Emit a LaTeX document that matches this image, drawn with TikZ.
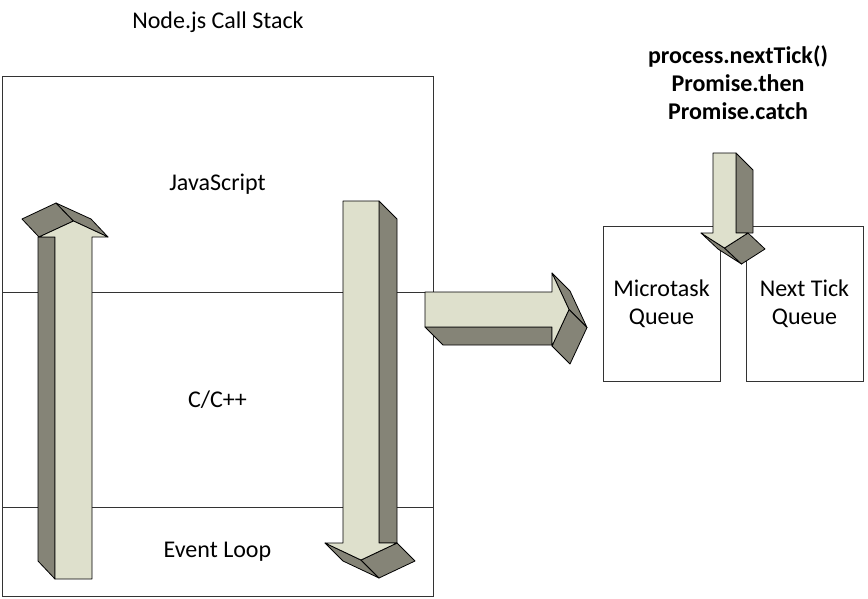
\documentclass[tikz,border=0pt]{standalone}
\usepackage{fontspec}
\setmainfont{Carlito}
\usetikzlibrary{positioning}
\definecolor{facelight}{RGB}{222,224,204}
\definecolor{facedark}{RGB}{133,132,119}

\begin{document}
\begin{tikzpicture}[x=1pt,y=-1pt,line width=0.8pt,
    font=\fontsize{24}{28}\selectfont,
    layer/.style={draw=black!80,minimum width=431pt,outer sep=0pt},
    queuebox/.style={draw=black!80,minimum width=117pt,minimum height=155pt,align=center,outer sep=0pt},
    front/.style={fill=facelight,draw=black,line join=round},
    side/.style={fill=facedark,draw=black,line join=round}]
    \useasboundingbox (0,0) rectangle (868,598);

    \node (title) at (218,22) {Node.js Call Stack};
    \node[layer,minimum height=216pt] (js) at (217.5,184) {JavaScript};
    \node[layer,minimum height=215pt,below=0pt of js] (cpp) {C/C++};
    \node[layer,minimum height=89pt,below=0pt of cpp] (loop) {Event Loop};

    \node[queuebox] (microtask) at (661.5,303.5) {Microtask\\Queue};
    \node[queuebox,right=26pt of microtask] (nexttick) {Next Tick\\Queue};
    \node[font=\fontsize{24}{28}\selectfont\bfseries,align=center] (sources) at (738,83) {process.nextTick()\\Promise.then\\Promise.catch};

    % up arrow
    \filldraw[side] (55,579) -- (38,561) -- (38,237) -- (55,237) -- cycle;
    \filldraw[side] (39,237) -- (22,219) -- (56,203) -- (73.5,221) -- cycle;
    \filldraw[side] (73.5,221) -- (56,203) -- (91,219) -- (108,237) -- cycle;
    \filldraw[front] (55,579) -- (55,237) -- (39,237) -- (73.5,221) -- (108,237) -- (92,237) -- (92,579) -- cycle;

    % down arrow
    \filldraw[side] (379,201) -- (397,219) -- (397,543) -- (379,543) -- cycle;
    \filldraw[side] (325,543) -- (343,561) -- (379,578) -- (361,560) -- cycle;
    \filldraw[side] (361,560) -- (379,578) -- (415,561) -- (397,543) -- cycle;
    \filldraw[front] (343,201) -- (379,201) -- (379,543) -- (397,543) -- (361,560) -- (325,543) -- (343,543) -- cycle;

    % arrow to the queues
    \filldraw[side] (425,327) -- (443,345) -- (552,345) -- (552,327) -- cycle;
    \filldraw[side] (552,273) -- (570,291) -- (587,327.5) -- (569,309.5) -- cycle;
    \filldraw[side] (569,309.5) -- (587,327.5) -- (570,364) -- (552,346) -- cycle;
    \filldraw[front] (425,292) -- (552,292) -- (552,273) -- (569,309.5) -- (552,346) -- (552,327) -- (425,327) -- cycle;

    % small arrow
    \filldraw[side] (736,153) -- (753,170) -- (753,233) -- (736,233) -- cycle;
    \filldraw[side] (701,233) -- (718,249) -- (741.5,264) -- (724.5,248) -- cycle;
    \filldraw[side] (724.5,248) -- (741.5,264) -- (765,249) -- (748,233) -- cycle;
    \filldraw[front] (713,153) -- (736,153) -- (736,233) -- (748,233) -- (724.5,248) -- (701,233) -- (713,233) -- cycle;
\end{tikzpicture}
\end{document}
